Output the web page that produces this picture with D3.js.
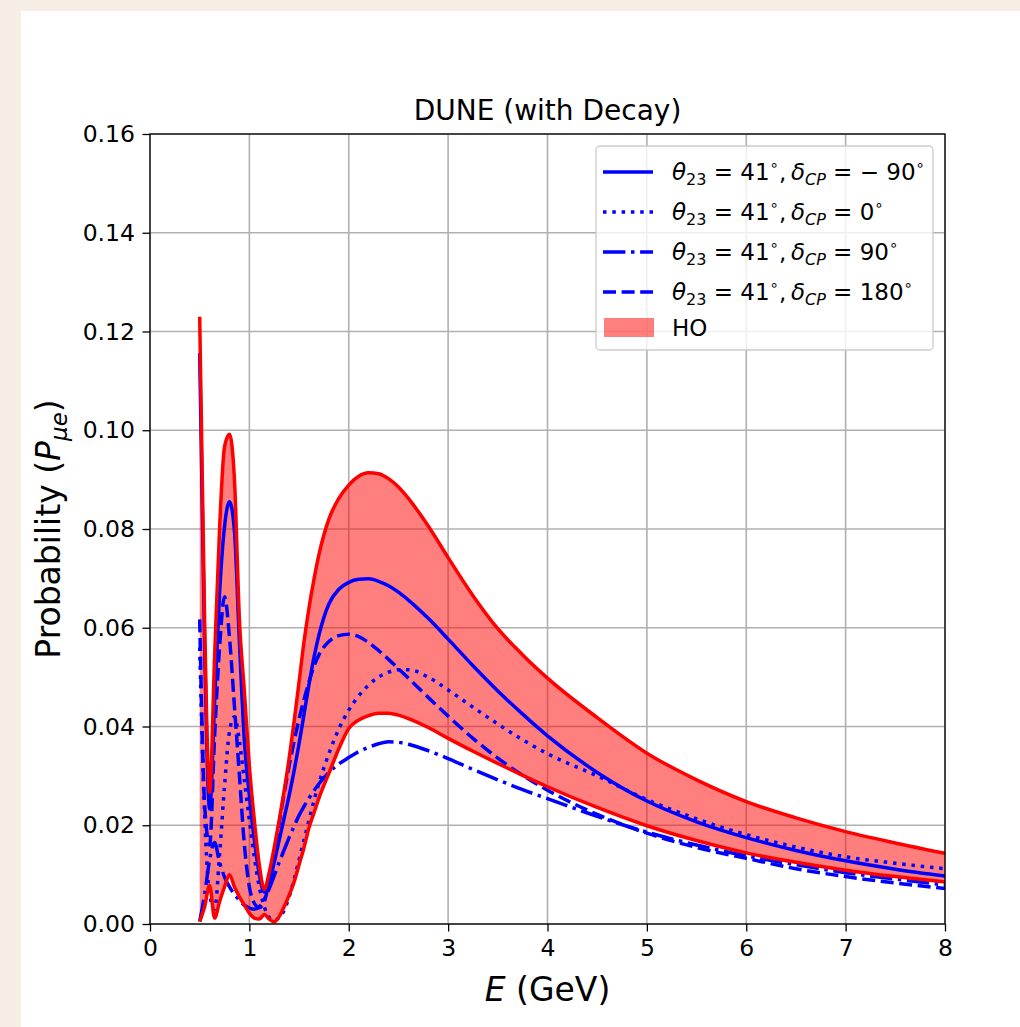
<!DOCTYPE html>
<html>
<head>
<meta charset="utf-8">
<script src="https://cdn.jsdelivr.net/npm/d3@7"></script>
<style>
  html, body { margin: 0; padding: 0; background: #f6eee4; }
  svg { display: block; }
  text { font-family: "DejaVu Sans", sans-serif; fill: #000; }
</style>
</head>
<body>
<svg id="chart" width="1020" height="1027"></svg>
<script>
// Neutrino energy grid (GeV)
const energies = [0.5, 0.55, 0.6, 0.65, 0.7, 0.75, 0.8, 0.85, 0.9, 0.95,
  1.0, 1.05, 1.1, 1.15, 1.2, 1.25, 1.3, 1.35, 1.4, 1.45,
  1.5, 1.55, 1.6, 1.65, 1.7, 1.8, 1.9, 2.0, 2.1, 2.2,
  2.3, 2.4, 2.5, 2.6, 2.8, 3.0, 3.25, 3.5, 3.75, 4.0,
  4.5, 5.0, 5.5, 6.0, 6.5, 7.0, 7.5, 8.0];

// HO band: upper and lower envelope of P(mu -> e)
const hoUpper = [0.123, 0.061, 0.0266, 0.054, 0.080, 0.0967, 0.0992, 0.0899, 0.0616, 0.047,
  0.032, 0.021, 0.012, 0.007, 0.0105, 0.0155, 0.021, 0.027, 0.0335, 0.041,
  0.049, 0.0572, 0.0640, 0.0698, 0.0748, 0.0820, 0.0862, 0.0889, 0.0907, 0.0914,
  0.0912, 0.0902, 0.0885, 0.0862, 0.0806, 0.0742, 0.0665, 0.0598, 0.0545, 0.0498,
  0.0418, 0.0346, 0.0292, 0.0248, 0.0215, 0.0187, 0.0164, 0.0143];
const hoLower = [0.0005, 0.0035, 0.0078, 0.0012, 0.0045, 0.0075, 0.0100, 0.0075, 0.0055, 0.0038,
  0.0022, 0.0012, 0.0010, 0.0019, 0.0010, 0.0004, 0.0015, 0.0035, 0.0058, 0.0085,
  0.012, 0.0155, 0.0195, 0.0225, 0.0255, 0.0305, 0.0355, 0.0396, 0.0413, 0.0422,
  0.0427, 0.0427, 0.0423, 0.0416, 0.0398, 0.0376, 0.0350, 0.0325, 0.0301, 0.0278,
  0.0236, 0.0199, 0.0169, 0.0144, 0.0125, 0.0109, 0.0096, 0.0085];

// theta23 = 41 deg, four values of delta_CP
const dcpMinus90 = [0.1156, 0.056, 0.0233, 0.045, 0.067, 0.0805, 0.0855, 0.0795, 0.057, 0.037,
  0.026, 0.017, 0.010, 0.0065, 0.0085, 0.0125, 0.017, 0.0215, 0.026, 0.031,
  0.0365, 0.0425, 0.0485, 0.054, 0.0585, 0.0648, 0.0678, 0.0692, 0.0698, 0.0699,
  0.0694, 0.0685, 0.0672, 0.0656, 0.0619, 0.0577, 0.0523, 0.0472, 0.0425, 0.0381,
  0.0307, 0.0249, 0.0207, 0.0175, 0.0149, 0.0128, 0.0111, 0.0097];
const dcp0 = [0.056, 0.022, 0.006, 0.003, 0.014, 0.028, 0.039, 0.042, 0.037, 0.029,
  0.021, 0.0135, 0.0075, 0.0035, 0.0013, 0.0008, 0.0013, 0.0028, 0.0055, 0.009,
  0.013, 0.017, 0.021, 0.025, 0.0285, 0.0345, 0.0395, 0.0433, 0.0462, 0.0484,
  0.0500, 0.0510, 0.0515, 0.0515, 0.0500, 0.0474, 0.0439, 0.0405, 0.0373, 0.0345,
  0.0300, 0.0252, 0.0213, 0.0181, 0.0156, 0.0136, 0.0123, 0.0112];
const dcp90 = [0.0005, 0.006, 0.013, 0.0165, 0.0125, 0.0095, 0.0075, 0.006, 0.0048, 0.0038,
  0.0032, 0.0030, 0.0035, 0.0050, 0.0072, 0.0098, 0.0125, 0.015, 0.0175, 0.0198,
  0.022, 0.0238, 0.0255, 0.027, 0.0284, 0.0307, 0.0324, 0.0337, 0.0349, 0.0358,
  0.0365, 0.0369, 0.0368, 0.0364, 0.0351, 0.0335, 0.0313, 0.0292, 0.0272, 0.0254,
  0.0218, 0.0186, 0.0160, 0.0138, 0.0120, 0.0104, 0.0091, 0.0079];
const dcp180 = [0.0617, 0.024, 0.016, 0.038, 0.056, 0.0663, 0.058, 0.044, 0.030, 0.016,
  0.0075, 0.0042, 0.0033, 0.0045, 0.009, 0.0145, 0.0205, 0.0265, 0.032, 0.037,
  0.0415, 0.0455, 0.049, 0.0522, 0.0545, 0.0572, 0.0584, 0.0587, 0.0582, 0.0570,
  0.0554, 0.0536, 0.0517, 0.0498, 0.0459, 0.0421, 0.0376, 0.0336, 0.0301, 0.0271,
  0.0222, 0.0184, 0.0155, 0.0133, 0.0112, 0.0096, 0.0083, 0.0072];

const xTicks = [0, 1, 2, 3, 4, 5, 6, 7, 8];
const yTicks = [0, 0.02, 0.04, 0.06, 0.08, 0.10, 0.12, 0.14, 0.16];

const LW = 3.5;
const curves = [
  { values: dcpMinus90, dcp: "\u2212 90", dash: null },
  { values: dcp0, dcp: "0", dash: "3.5,5.8" },
  { values: dcp90, dcp: "90", dash: "22.4,5.6,3.5,5.6" },
  { values: dcp180, dcp: "180", dash: "13,5.6" }
];

const svg = d3.select("#chart");
const W = 1020, H = 1027;
const plot = { left: 150, right: 945, top: 134, bottom: 924 };

svg.append("rect").attr("width", W).attr("height", H).attr("fill", "#f6eee4");
svg.append("rect").attr("x", 21).attr("y", 11).attr("width", W - 21).attr("height", H - 11).attr("fill", "#ffffff");

const x = d3.scaleLinear().domain([0, 8]).range([plot.left, plot.right]);
const y = d3.scaleLinear().domain([0, 0.16]).range([plot.bottom, plot.top]);

svg.append("defs").append("clipPath").attr("id", "plotClip")
  .append("rect").attr("x", plot.left).attr("y", plot.top - 2)
  .attr("width", plot.right - plot.left).attr("height", plot.bottom - plot.top + 2);

// grid
const grid = svg.append("g").attr("stroke", "#b0b0b0").attr("stroke-width", 1.6);
grid.selectAll("line.gx").data(xTicks).join("line")
  .attr("x1", d => x(d)).attr("x2", d => x(d)).attr("y1", plot.top).attr("y2", plot.bottom);
grid.selectAll("line.gy").data(yTicks).join("line")
  .attr("x1", plot.left).attr("x2", plot.right).attr("y1", d => y(d)).attr("y2", d => y(d));

const pts = energies.map((e, i) => ({ e, i }));
const body = svg.append("g").attr("clip-path", "url(#plotClip)");

// HO band
const band = d3.area()
  .x(d => x(d.e)).y0(d => y(hoLower[d.i])).y1(d => y(hoUpper[d.i]))
  .curve(d3.curveMonotoneX);
body.append("path").attr("d", band(pts)).attr("fill", "#ff0000").attr("fill-opacity", 0.5);

const lineOf = arr => d3.line().x(d => x(d.e)).y(d => y(arr[d.i])).curve(d3.curveMonotoneX)(pts);

curves.forEach(c => {
  body.append("path").attr("d", lineOf(c.values))
    .attr("fill", "none").attr("stroke", "#0000ff").attr("stroke-width", LW)
    .attr("stroke-dasharray", c.dash);
});
[hoUpper, hoLower].forEach(arr => {
  body.append("path").attr("d", lineOf(arr))
    .attr("fill", "none").attr("stroke", "#ff0000").attr("stroke-width", LW);
});

// axes
const xAxis = d3.axisBottom(x).tickValues(xTicks).tickFormat(d3.format("d"))
  .tickSize(7.5).tickSizeOuter(0).tickPadding(8);
const yAxis = d3.axisLeft(y).tickValues(yTicks).tickFormat(d3.format(".2f"))
  .tickSize(7.5).tickSizeOuter(0).tickPadding(7.5);
const gx = svg.append("g").attr("transform", `translate(0,${plot.bottom})`).call(xAxis);
const gy = svg.append("g").attr("transform", `translate(${plot.left},0)`).call(yAxis);
[gx, gy].forEach(g => {
  g.select(".domain").remove();
  g.selectAll(".tick line").attr("stroke", "#000").attr("stroke-width", 1.3);
  g.selectAll(".tick text").attr("font-size", 23.5).attr("font-family", "DejaVu Sans").attr("fill", "#000");
});

svg.append("rect").attr("x", plot.left).attr("y", plot.top)
  .attr("width", plot.right - plot.left).attr("height", plot.bottom - plot.top)
  .attr("fill", "none").attr("stroke", "#000").attr("stroke-width", 1.3);

// title and axis labels
svg.append("text").attr("x", (plot.left + plot.right) / 2).attr("y", 120)
  .attr("text-anchor", "middle").attr("font-size", 28).text("DUNE (with Decay)");

const xl = svg.append("text").attr("x", (plot.left + plot.right) / 2).attr("y", 1001)
  .attr("text-anchor", "middle").attr("font-size", 33);
xl.append("tspan").attr("font-style", "italic").text("E");
xl.append("tspan").text(" (GeV)");

const yl = svg.append("text")
  .attr("transform", `translate(60,${(plot.top + plot.bottom) / 2}) rotate(-90)`)
  .attr("text-anchor", "middle").attr("font-size", 33);
yl.append("tspan").text("Probability (");
yl.append("tspan").attr("font-style", "italic").text("P");
yl.append("tspan").attr("font-style", "italic").attr("font-size", 23).attr("dy", 7).text("\u03bce");
yl.append("tspan").attr("dy", -7).text(")");

// legend
const lg = svg.append("g");
lg.append("rect").attr("x", 596).attr("y", 146).attr("width", 337).attr("height", 204)
  .attr("rx", 4).attr("fill", "#ffffff").attr("fill-opacity", 0.8)
  .attr("stroke", "#cccccc").attr("stroke-width", 1.3);
const rowY = [172, 212, 252, 292];
curves.forEach((c, k) => {
  const ry = rowY[k];
  lg.append("line").attr("x1", 603).attr("x2", 653).attr("y1", ry).attr("y2", ry)
    .attr("stroke", "#0000ff").attr("stroke-width", LW).attr("stroke-dasharray", c.dash);
  const t = lg.append("text").attr("x", 672).attr("y", ry + 8).attr("font-size", 23);
  t.append("tspan").attr("font-style", "italic").text("\u03b8");
  t.append("tspan").attr("font-size", 16).attr("dy", 5).text("23");
  t.append("tspan").attr("dy", -5).text(" = 41");
  t.append("tspan").attr("font-size", 15).attr("dy", -10).text("\u2218");
  t.append("tspan").attr("dy", 10).text(",\u2009");
  t.append("tspan").attr("font-style", "italic").text("\u03b4");
  t.append("tspan").attr("font-style", "italic").attr("font-size", 16).attr("dy", 5).text("CP");
  t.append("tspan").attr("dy", -5).text(" = " + c.dcp);
  t.append("tspan").attr("font-size", 15).attr("dy", -10).text("\u2218");
});
lg.append("rect").attr("x", 604).attr("y", 318).attr("width", 50).attr("height", 19)
  .attr("fill", "#ff0000").attr("fill-opacity", 0.5);
lg.append("text").attr("x", 672).attr("y", 336).attr("font-size", 23).text("HO");
</script>
</body>
</html>
